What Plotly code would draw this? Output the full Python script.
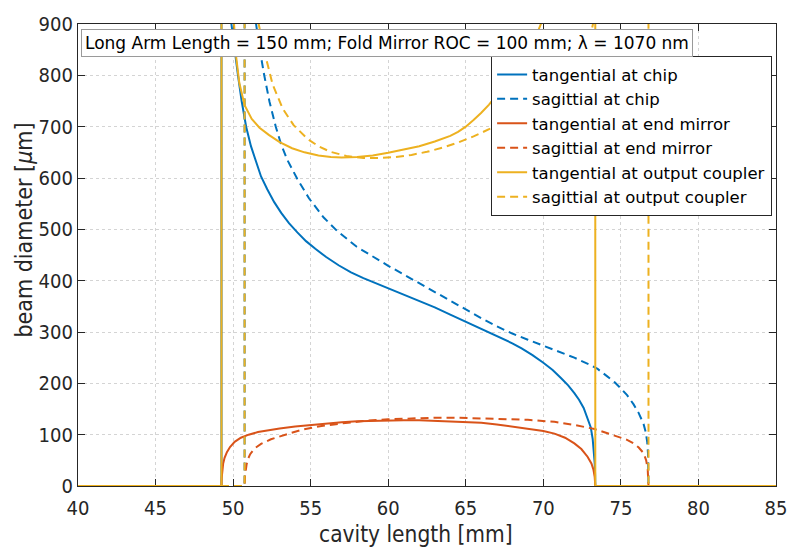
import plotly.graph_objects as go

# ---- data (cavity length in mm, beam diameter in um) ----
tan_chip_x = [40, 49.25, 49.25, 49.4, 49.6, 49.89, 50.1, 50.31, 50.55, 50.84, 51.15, 51.48, 51.8, 52.2,
              52.65, 53.1, 53.6, 54.14, 54.7, 55.3, 56.0, 56.8, 57.6, 58.4, 59.2, 60.0, 61.0, 62.0,
              63.0, 64.0, 65.0, 66.0, 67.0, 68.0, 68.6, 69.3, 70.0, 70.6, 71.15, 71.6, 72.0, 72.3,
              72.6, 72.85, 73.06, 73.18, 73.26, 73.31, 73.34, 73.35, 85]
tan_chip_y = [0, 0, 4000, 1800, 1200, 900, 845, 801, 750, 700, 662, 630, 603, 578,
              553, 532, 512, 494, 477, 462, 446, 430, 416, 405, 395, 386, 374, 361,
              348, 334, 320, 306, 292, 278, 268, 255, 240, 226, 210, 196, 181, 168,
              152, 133, 114, 92, 70, 45, 22, 0, 0]

sag_chip_x = [40, 50.74, 50.74, 50.9, 51.1, 51.3, 51.48, 51.75, 52.0, 52.35, 52.75, 53.1, 53.5, 54.14,
              54.9, 55.84, 56.7, 57.97, 59.24, 60.0, 61.0, 62.0, 63.0, 64.0, 65.0, 66.0, 67.0, 68.0,
              69.0, 70.0, 71.0, 72.0, 73.0, 73.5, 74.1, 74.6, 74.97, 75.4, 75.82, 76.15, 76.46, 76.6,
              76.7, 76.75, 76.78, 85]
sag_chip_y = [0, 0, 4000, 1800, 1300, 1050, 900, 845, 801, 748, 700, 665, 635, 598,
              560, 523, 497, 466, 442, 429, 412, 395, 378, 361, 343, 327, 311, 297,
              285, 273, 262, 250, 236, 228, 214, 202, 191, 177, 159, 142, 121, 105,
              85, 62, 0, 0]

tan_end_x = [40, 49.25, 49.26, 49.3, 49.36, 49.45, 49.6, 49.8, 50.1, 50.5, 51.0, 51.6, 52.3, 53.0,
             54.0, 55.0, 56.0, 57.0, 58.0, 59.0, 60.0, 61.0, 62.0, 63.0, 64.0, 65.0, 66.0, 67.0,
             68.0, 69.0, 70.0, 70.72, 71.4, 72.0, 72.45, 72.85, 73.1, 73.23, 73.31, 73.35, 85]
tan_end_y = [0, 0, 15, 32, 44, 55, 66, 76, 86, 94, 100, 105, 109, 112,
             116, 119, 122, 124, 126, 127, 128, 128, 128, 127, 126, 125, 123, 120,
             116, 112, 107, 102, 94, 83, 72, 57, 44, 32, 18, 0, 0]

sag_end_x = [40, 50.74, 50.76, 50.8, 50.87, 50.95, 51.1, 51.38, 51.8, 52.44, 53.1, 53.7, 54.5, 55.5,
             56.5, 57.5, 58.5, 60.0, 61.5, 63.0, 64.5, 66.0, 67.5, 69.0, 70.72, 72.0, 73.3, 74.0,
             74.5, 74.97, 75.4, 75.82, 76.15, 76.46, 76.63, 76.73, 76.78, 85]
sag_end_y = [0, 0, 18, 30, 42, 52, 62, 73, 82, 91, 98, 103, 110, 116,
             120, 124, 127, 130, 132, 133, 133, 132, 131, 129, 125, 119, 111, 104,
             100, 95, 90, 83, 75, 64, 50, 32, 0, 0]

tan_oc_x = [40, 49.25, 49.25, 49.5, 49.75, 49.9, 50.06, 50.2, 50.4, 50.74, 51.2, 51.7, 52.3, 53.0,
            53.8, 54.6, 55.5, 56.3, 57.0, 58.0, 59.0, 60.0, 61.0, 62.0, 63.0, 64.0, 64.5, 65.0,
            65.5, 66.0, 66.5, 67.0, 67.5, 68.0, 68.5, 69.0, 69.5, 69.87, 70.5, 71.0, 71.6, 72.2,
            72.7, 73.1, 73.34, 73.35, 85]
tan_oc_y = [0, 0, 9000, 1500, 1100, 1000, 900, 835, 785, 742, 715, 698, 684, 670,
            658, 650, 644, 641, 640, 641, 644, 649, 655, 662, 671, 682, 690, 700,
            713, 727, 743, 761, 781, 802, 824, 848, 874, 900, 950, 1000, 1100, 1250,
            1500, 2200, 9000, 0, 0]

sag_oc_x = [40, 50.74, 50.74, 51.0, 51.3, 51.65, 52.0, 52.55, 53.2, 53.9, 54.8, 55.5, 56.27, 57.3,
            58.4, 59.5, 60.5, 61.5, 62.5, 63.5, 64.5, 65.5, 66.5, 67.5, 68.5, 69.5, 70.5, 71.5,
            72.0, 72.5, 73.0, 73.2, 73.8, 74.4, 75.0, 75.8, 76.4, 76.77, 76.78, 85]
sag_oc_y = [0, 0, 9000, 1600, 1100, 900, 848, 782, 735, 703, 676, 662, 651, 643,
            639, 639, 641, 645, 651, 659, 669, 681, 695, 715, 734, 755, 778, 803,
            818, 840, 873, 900, 950, 1030, 1200, 1600, 2500, 9000, 0, 0]

names = ["tangential at chip", "sagittial at chip", "tangential at end mirror",
         "sagittial at end mirror", "tangential at output coupler", "sagittial at output coupler"]
series = [(tan_chip_x, tan_chip_y), (sag_chip_x, sag_chip_y), (tan_end_x, tan_end_y),
          (sag_end_x, sag_end_y), (tan_oc_x, tan_oc_y), (sag_oc_x, sag_oc_y)]
colors = ["#0072BD", "#0072BD", "#D95319", "#D95319", "#EDB120", "#EDB120"]
dashes = ["solid", "8px,5px", "solid", "8px,5px", "solid", "8px,5px"]

x_ticks = list(range(40, 86, 5))
y_ticks = list(range(0, 901, 100))
title_text = "Long Arm Length = 150 mm; Fold Mirror ROC = 100 mm; λ = 1070 nm"
x_title = "cavity length [mm]"
y_title = "beam diameter [<i>μ</i>m]"

FONT = "DejaVu Sans Condensed, DejaVu Sans, sans-serif"
FONT_W = "DejaVu Sans, sans-serif"
INK = "#262626"

fig = go.Figure()
for (xs, ys), n, c, d in zip(series, names, colors, dashes):
    fig.add_trace(go.Scatter(x=xs, y=ys, mode="lines", name=n,
                             line=dict(color=c, width=2, dash=d)))

axis_common = dict(showline=True, linecolor=INK, linewidth=1.3, mirror="ticks",
                   ticks="inside", ticklen=7, tickwidth=1.3, tickcolor=INK,
                   showgrid=True, gridcolor="#d4d4d4", griddash="dot", gridwidth=1,
                   zeroline=False, layer="below traces",
                   tickfont=dict(family=FONT, size=20, color=INK))

fig.update_layout(
    width=799, height=552,
    margin=dict(l=78, r=15, t=15, b=66),
    paper_bgcolor="white", plot_bgcolor="white",
    font=dict(family=FONT, color=INK),
    xaxis=dict(range=[40, 85], tickvals=x_ticks, ticklabelstandoff=4, **axis_common),
    yaxis=dict(range=[0, 900], tickvals=y_ticks, **axis_common),
    legend=dict(x=0.994, xanchor="right", y=0.931, yanchor="top",
                bgcolor="white", bordercolor=INK, borderwidth=1.3,
                font=dict(family=FONT_W, size=16.5, color="black"),
                itemwidth=30, tracegroupgap=0),
    showlegend=True,
    annotations=[
        dict(text=title_text, xref="paper", yref="paper", x=0.005, y=0.99,
             xanchor="left", yanchor="top", showarrow=False,
             font=dict(family=FONT_W, size=17, color="black"),
             bgcolor="white", bordercolor="#9a9a9a", borderwidth=1, borderpad=3),
        dict(text=x_title, xref="paper", yref="paper", x=0.484, y=-0.104,
             xanchor="center", yanchor="middle", showarrow=False,
             font=dict(family=FONT, size=22.5, color=INK)),
        dict(text=y_title, xref="paper", yref="paper", x=-0.078, y=0.554,
             xanchor="center", yanchor="middle", showarrow=False, textangle=-90,
             font=dict(family=FONT, size=23, color=INK)),
    ],
)

fig.write_html("out.html")
